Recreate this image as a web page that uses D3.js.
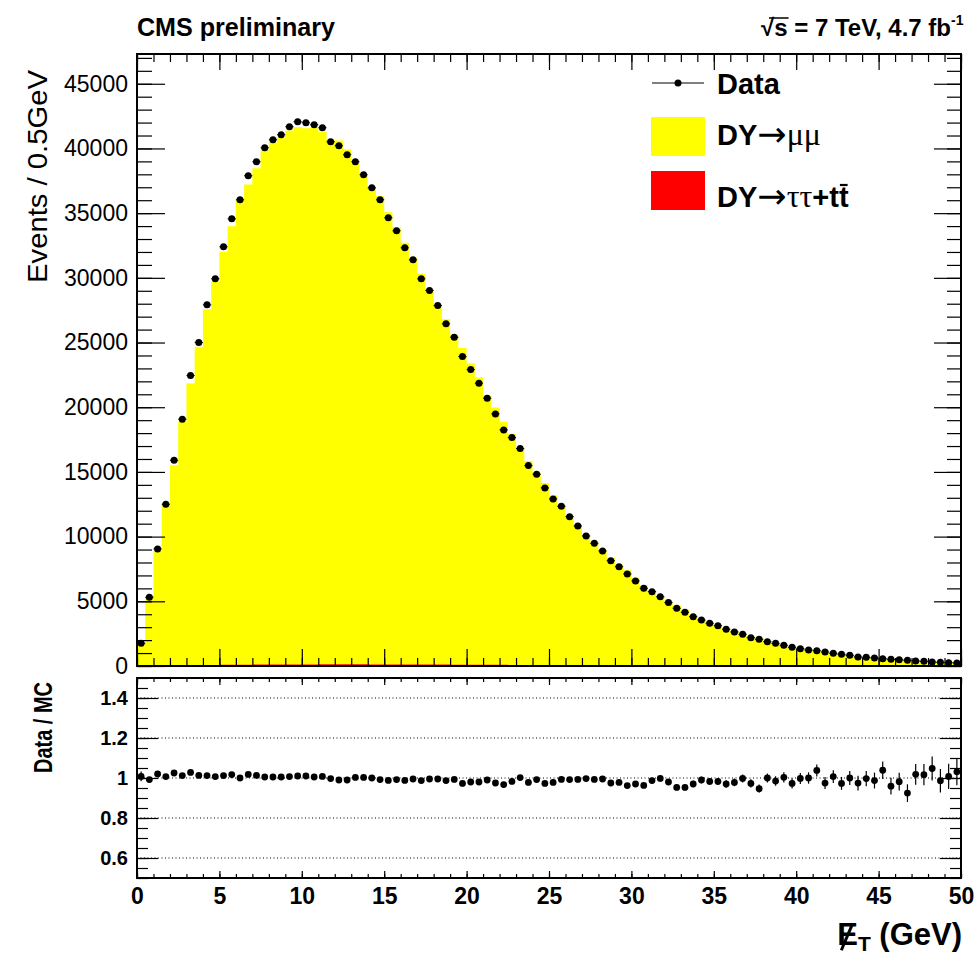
<!DOCTYPE html>
<html><head><meta charset="utf-8">
<script src="https://cdn.jsdelivr.net/npm/d3@7"></script>
<style>body{margin:0;background:#fff}</style>
</head><body><svg id="c" width="975" height="956"></svg>
<script>
// ---- data ----
const xMin = 0, xMax = 50, binWidth = 0.5;
const dataCounts = [1755,5312,9046,12503,15905,19075,22446,24998,27913,29923,
32397,34562,36031,37887,38969,40052,40670,41057,41675,42062,
41985,41830,41598,40516,40206,39511,38969,37964,36959,36031,
34639,33634,32320,31392,29923,29018,27858,26443,25415,23915,
22910,21858,20699,19485,18248,17652,16802,15487,14822,13763,
12912,12348,11544,10825,10052,9487,8892,8142,7670,7113,
6572,6008,5745,5350,4900,4461,4152,3812,3557,3302,
3116,2838,2629,2451,2188,2064,1879,1755,1601,1446,
1338,1237,1183,1082,982,905,827,696,673,619,
564,518,487,441,387,363,309,286,255,232];
const dyMuMu = [1736,5345,8851,12388,15479,18801,21777,24611,27508,29633,
31925,33890,35932,37113,38361,39741,40353,40735,41265,41524,
41445,41497,41142,40511,40485,39783,38725,37724,36834,36198,
34937,33784,32594,31433,30202,29051,27887,26683,25489,24477,
23279,22208,20815,19895,18784,17873,16687,15757,14867,14073,
13133,12369,11574,10840,10023,9497,8882,8298,7792,7345,
6728,6194,5778,5320,4960,4642,4319,3893,3557,3324,
3136,2893,2656,2425,2219,2151,1851,1755,1570,1461,
1317,1214,1118,1089,955,911,809,697,659,612,
529,527,484,465,369,346,285,280,244,216];
const dyTauTauTT = [5,10,18,28,38,48,58,66,74,82,
88,94,99,104,108,112,115,118,120,122,
124,125,126,127,127,127,127,126,125,124,
123,121,119,117,115,113,111,108,105,102,
99,96,93,90,87,84,81,78,75,72,
69,66,63,61,59,57,55,53,51,49,
47,45,43,41,40,39,38,37,36,35,
34,33,32,31,30,29,28,27,26,25,
24,23,22,21,20,19,18,17,16,15,
14,13,12,12,11,11,10,10,9,9];
const yTicksMain = [0,5000,10000,15000,20000,25000,30000,35000,40000,45000];
const yTicksRatio = [0.6,0.8,1,1.2,1.4];
const xTicks = [0,5,10,15,20,25,30,35,40,45,50];

// ---- layout ----
const L = 137, R = 961, T1 = 54, B1 = 666, T2 = 678, B2 = 878;
const SANS = "'Liberation Sans', Arial, Helvetica, sans-serif";
const SERIF = "'Liberation Serif', 'DejaVu Serif', serif";
const ARROW = "'DejaVu Sans', sans-serif";
const svg = d3.select('#c');
const x = d3.scaleLinear([xMin, xMax], [L, R]);
const y = d3.scaleLinear([0, 47300], [B1, T1]);
const yr = d3.scaleLinear([0.5, 1.5], [B2, T2]);

const bins = dataCounts.map((d, i) => {
  const lo = xMin + i * binWidth, hi = lo + binWidth;
  const tot = dyMuMu[i] + dyTauTauTT[i];
  return {lo, hi, c: (lo + hi) / 2, data: d, tt: dyTauTauTT[i], tot,
          err: Math.sqrt(d), ratio: d / tot, rerr: Math.sqrt(d) / tot};
});

svg.append('defs').append('clipPath').attr('id', 'clipTop')
  .append('rect').attr('x', L).attr('y', T1).attr('width', R - L).attr('height', B1 - T1);
svg.select('defs').append('clipPath').attr('id', 'clipBot')
  .append('rect').attr('x', L).attr('y', T2).attr('width', R - L).attr('height', B2 - T2);

// ---- upper panel histograms ----
const steps = key => bins.flatMap(b => [[b.lo, b[key]], [b.hi, b[key]]]);
const area = d3.area().x(d => x(d[0])).y0(B1).y1(d => y(d[1]));
const gTop = svg.append('g').attr('clip-path', 'url(#clipTop)');
gTop.append('path').attr('d', area(steps('tot'))).attr('fill', '#ffff00');
gTop.append('path').attr('d', area(steps('tt'))).attr('fill', '#ff0000');

// data points
const gData = gTop.append('g');
gData.selectAll('line.ex').data(bins).join('line')
  .attr('x1', d => x(d.lo)).attr('x2', d => x(d.hi))
  .attr('y1', d => y(d.data)).attr('y2', d => y(d.data))
  .attr('stroke', '#000').attr('stroke-width', 1);
gData.selectAll('line.ey').data(bins).join('line')
  .attr('x1', d => x(d.c)).attr('x2', d => x(d.c))
  .attr('y1', d => y(d.data - d.err)).attr('y2', d => y(d.data + d.err))
  .attr('stroke', '#000').attr('stroke-width', 1);
gData.selectAll('circle').data(bins).join('circle')
  .attr('cx', d => x(d.c)).attr('cy', d => y(d.data)).attr('r', 3.5).attr('fill', '#000');

// ---- axes helper ----
function styleAxis(g) {
  g.select('.domain').remove();
  g.selectAll('.tick line').attr('stroke', '#000').attr('stroke-width', 1.2);
  return g;
}
// upper panel y
styleAxis(svg.append('g').attr('transform', `translate(${L},0)`)
  .call(d3.axisLeft(y).tickValues(d3.range(0, 47001, 1000)).tickSize(-15).tickFormat('')));
const yAxMain = styleAxis(svg.append('g').attr('transform', `translate(${L},0)`)
  .call(d3.axisLeft(y).tickValues(yTicksMain).tickSize(-28).tickPadding(9).tickFormat(d3.format('d'))));
yAxMain.selectAll('text').attr('font-family', SANS).attr('font-size', 23).attr('fill', '#000');
styleAxis(svg.append('g').attr('transform', `translate(${R},0)`)
  .call(d3.axisRight(y).tickValues(d3.range(0, 47001, 1000)).tickSize(-14).tickFormat('')));
styleAxis(svg.append('g').attr('transform', `translate(${R},0)`)
  .call(d3.axisRight(y).tickValues(yTicksMain).tickSize(-27).tickFormat('')));
// upper panel x (bottom & top)
styleAxis(svg.append('g').attr('transform', `translate(0,${B1})`)
  .call(d3.axisBottom(x).tickValues(d3.range(0, 50.01, 1)).tickSize(-8).tickFormat('')));
styleAxis(svg.append('g').attr('transform', `translate(0,${B1})`)
  .call(d3.axisBottom(x).tickValues(xTicks).tickSize(-17).tickFormat('')));
styleAxis(svg.append('g').attr('transform', `translate(0,${T1})`)
  .call(d3.axisTop(x).tickValues(d3.range(0, 50.01, 1)).tickSize(-8).tickFormat('')));
styleAxis(svg.append('g').attr('transform', `translate(0,${T1})`)
  .call(d3.axisTop(x).tickValues(xTicks).tickSize(-16).tickFormat('')));
svg.append('rect').attr('x', L).attr('y', T1).attr('width', R - L).attr('height', B1 - T1)
  .attr('fill', 'none').attr('stroke', '#000').attr('stroke-width', 2);

// ---- lower panel ----
const gBot = svg.append('g').attr('clip-path', 'url(#clipBot)');
gBot.selectAll('line.grid').data(yTicksRatio).join('line')
  .attr('x1', L).attr('x2', R).attr('y1', d => yr(d)).attr('y2', d => yr(d))
  .attr('stroke', '#000').attr('stroke-width', 1).attr('stroke-dasharray', '1,2.5');
gBot.selectAll('line.rerr').data(bins).join('line')
  .attr('x1', d => x(d.c)).attr('x2', d => x(d.c))
  .attr('y1', d => yr(d.ratio - d.rerr)).attr('y2', d => yr(d.ratio + d.rerr))
  .attr('stroke', '#000').attr('stroke-width', 1.2);
gBot.selectAll('circle').data(bins).join('circle')
  .attr('cx', d => x(d.c)).attr('cy', d => yr(d.ratio)).attr('r', 3.4).attr('fill', '#000');

styleAxis(svg.append('g').attr('transform', `translate(${L},0)`)
  .call(d3.axisLeft(yr).tickValues(d3.range(0.5, 1.5001, 0.05)).tickSize(-11).tickFormat('')));
const yAxR = styleAxis(svg.append('g').attr('transform', `translate(${L},0)`)
  .call(d3.axisLeft(yr).tickValues(yTicksRatio).tickSize(-21).tickPadding(9).tickFormat(d3.format('~g'))));
yAxR.selectAll('text').attr('font-family', SANS).attr('font-size', 20).attr('font-weight', 'bold').attr('fill', '#000');
styleAxis(svg.append('g').attr('transform', `translate(${R},0)`)
  .call(d3.axisRight(yr).tickValues(d3.range(0.5, 1.5001, 0.05)).tickSize(-11).tickFormat('')));
styleAxis(svg.append('g').attr('transform', `translate(${R},0)`)
  .call(d3.axisRight(yr).tickValues(yTicksRatio).tickSize(-21).tickFormat('')));
styleAxis(svg.append('g').attr('transform', `translate(0,${B2})`)
  .call(d3.axisBottom(x).tickValues(d3.range(0, 50.01, 1)).tickSize(-4).tickFormat('')));
const xAxR = styleAxis(svg.append('g').attr('transform', `translate(0,${B2})`)
  .call(d3.axisBottom(x).tickValues(xTicks).tickSize(-7).tickPadding(8).tickFormat(d3.format('d'))));
xAxR.selectAll('text').attr('font-family', SANS).attr('font-size', 23).attr('font-weight', 'bold')
  .attr('fill', '#000').attr('dy', '0.71em').attr('y', 10);
styleAxis(svg.append('g').attr('transform', `translate(0,${T2})`)
  .call(d3.axisTop(x).tickValues(d3.range(0, 50.01, 1)).tickSize(-4).tickFormat('')));
styleAxis(svg.append('g').attr('transform', `translate(0,${T2})`)
  .call(d3.axisTop(x).tickValues(xTicks).tickSize(-7).tickFormat('')));
svg.append('rect').attr('x', L).attr('y', T2).attr('width', R - L).attr('height', B2 - T2)
  .attr('fill', 'none').attr('stroke', '#000').attr('stroke-width', 2);

// ---- titles ----
svg.append('text').attr('x', L).attr('y', 36).attr('font-family', SANS).attr('font-weight', 'bold')
  .attr('font-size', 25).attr('textLength', 198).attr('lengthAdjust', 'spacingAndGlyphs')
  .text('CMS preliminary');

const lumi = svg.append('text').attr('x', 951).attr('y', 36).attr('text-anchor', 'end')
  .attr('font-family', SANS).attr('font-weight', 'bold').attr('font-size', 24);
lumi.append('tspan').text('\u221As = 7 TeV, 4.7 fb');
svg.append('text').attr('x', 951).attr('y', 25).attr('font-family', SANS).attr('font-weight', 'bold')
  .attr('font-size', 14).text('-1');
{
  const node = lumi.node();
  const e0 = node.getExtentOfChar(0), e1 = node.getExtentOfChar(1);
  svg.append('line').attr('x1', e0.x + e0.width * 0.6).attr('x2', e1.x + e1.width + 1)
    .attr('y1', e1.y + 4).attr('y2', e1.y + 4).attr('stroke', '#000').attr('stroke-width', 1.5);
}

svg.append('text').attr('transform', 'translate(47,283) rotate(-90)')
  .attr('font-family', SANS).attr('font-size', 28).attr('textLength', 213).attr('lengthAdjust', 'spacingAndGlyphs')
  .text('Events / 0.5GeV');
svg.append('text').attr('transform', 'translate(52,773) rotate(-90)')
  .attr('font-family', SANS).attr('font-weight', 'bold').attr('font-size', 26)
  .attr('textLength', 91).attr('lengthAdjust', 'spacingAndGlyphs')
  .text('Data / MC');

const xt = svg.append('text').attr('x', 962).attr('y', 945).attr('text-anchor', 'end')
  .attr('font-family', SANS).attr('font-weight', 'bold').attr('font-size', 31);
xt.append('tspan').text('E');
xt.append('tspan').attr('font-size', 21).attr('dy', 6).text('T');
xt.append('tspan').attr('dy', -6).text(' (GeV)');
{
  const e = xt.node().getExtentOfChar(0);
  svg.append('line').attr('x1', e.x + e.width * 0.2).attr('y1', e.y + e.height * 0.95)
    .attr('x2', e.x + e.width * 0.75).attr('y2', e.y + e.height * 0.18)
    .attr('stroke', '#000').attr('stroke-width', 3);
}

// ---- legend ----
const lg = svg.append('g');
lg.append('line').attr('x1', 652).attr('x2', 704).attr('y1', 83).attr('y2', 83).attr('stroke', '#000').attr('stroke-width', 1.2);
lg.append('circle').attr('cx', 678).attr('cy', 83).attr('r', 3.5).attr('fill', '#000');
lg.append('text').attr('x', 717).attr('y', 94).attr('font-family', SANS).attr('font-weight', 'bold')
  .attr('font-size', 29).text('Data');
lg.append('rect').attr('x', 651).attr('y', 117).attr('width', 54).attr('height', 39).attr('fill', '#ffff00');
const t2 = lg.append('text').attr('x', 717).attr('y', 145).attr('font-family', SANS).attr('font-weight', 'bold').attr('font-size', 29);
t2.append('tspan').text('DY');
t2.append('tspan').attr('font-family', ARROW).attr('font-weight', 'normal').attr('font-size', 35).attr('dy', 1).text('\u2192');
t2.append('tspan').attr('font-family', SERIF).attr('font-weight', 'normal').attr('font-size', 32).attr('dy', -1).text('\u03BC\u03BC');
lg.append('rect').attr('x', 651).attr('y', 171).attr('width', 54).attr('height', 39).attr('fill', '#ff0000');
const t3 = lg.append('text').attr('x', 717).attr('y', 207).attr('font-family', SANS).attr('font-weight', 'bold').attr('font-size', 29);
t3.append('tspan').text('DY');
t3.append('tspan').attr('font-family', ARROW).attr('font-weight', 'normal').attr('font-size', 35).attr('dy', 1).text('\u2192');
t3.append('tspan').attr('font-family', SERIF).attr('font-weight', 'normal').attr('font-size', 32).attr('dy', -1).text('\u03C4\u03C4');
t3.append('tspan').text('+tt');
{
  const n = t3.node(), k = n.getNumberOfChars() - 1;
  const e = n.getExtentOfChar(k);
  lg.append('line').attr('x1', e.x + 1).attr('x2', e.x + e.width - 1)
    .attr('y1', e.y + 4).attr('y2', e.y + 4).attr('stroke', '#000').attr('stroke-width', 2.2);
}
</script></body></html>
